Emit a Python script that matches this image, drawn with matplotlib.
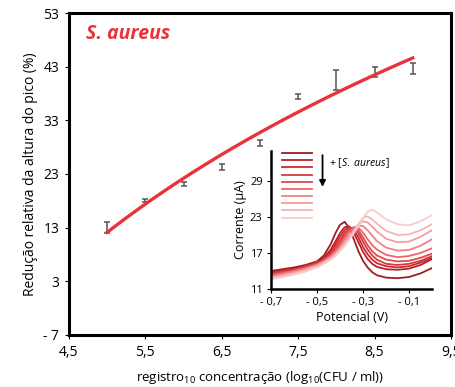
import numpy as np
import matplotlib.pyplot as plt
from matplotlib.lines import Line2D

plt.rcParams['font.family'] = ['Open Sans', 'DejaVu Sans']
plt.rcParams['mathtext.fontset'] = 'custom'
plt.rcParams['mathtext.rm'] = 'Open Sans'
plt.rcParams['mathtext.it'] = 'Open Sans:italic'

# main calibration data
conc = [5.0, 5.5, 6.0, 6.5, 7.0, 7.5, 8.0, 8.5, 9.0]
reduction = [13.0, 18.0, 21.2, 24.3, 28.8, 37.4, 40.5, 42.0, 42.6]
reduction_err = [1.0, 0.3, 0.4, 0.6, 0.5, 0.5, 1.9, 1.0, 1.0]

x_ticks = [4.5, 5.5, 6.5, 7.5, 8.5, 9.5]
x_ticklabels = ['4,5', '5,5', '6,5', '7,5', '8,5', '9,5']
y_ticks = [-7, 3, 13, 23, 33, 43, 53]
y_ticklabels = ['- 7', '3', '13', '23', '33', '43', '53']

# inset voltammograms (dark -> light = increasing concentration)
potential = [-0.70, -0.65, -0.60, -0.55, -0.50, -0.47, -0.44, -0.42, -0.40, -0.38, -0.36,
             -0.34, -0.32, -0.30, -0.28, -0.26, -0.24, -0.20, -0.15, -0.10, -0.05, 0.00]
curve0 = [14.0, 14.3, 14.6, 15.0, 15.6, 16.6, 18.5, 20.3, 21.7, 22.2, 21.2,
          19.3, 17.3, 15.7, 14.6, 13.8, 13.3, 12.9, 12.8, 13.0, 13.6, 14.5]
curve1 = [13.85, 14.1, 14.4, 14.9, 15.5, 16.2, 17.6, 18.9, 20.3, 21.3, 21.4,
          20.4, 18.8, 17.2, 16.0, 15.2, 14.7, 14.3, 14.2, 14.4, 15.0, 16.0]
curve2 = [13.7, 14.0, 14.3, 14.8, 15.4, 16.0, 17.2, 18.4, 19.7, 20.8, 21.4,
          20.9, 19.6, 18.0, 16.8, 15.9, 15.3, 14.8, 14.6, 14.8, 15.4, 16.2]
curve3 = [13.55, 13.9, 14.2, 14.7, 15.3, 15.9, 16.9, 17.9, 19.1, 20.3, 21.1,
          21.2, 20.3, 18.9, 17.6, 16.6, 15.9, 15.2, 15.0, 15.2, 15.7, 16.5]
curve4 = [13.4, 13.8, 14.1, 14.6, 15.2, 15.8, 16.7, 17.6, 18.7, 19.9, 20.9,
          21.3, 20.8, 19.6, 18.3, 17.3, 16.6, 15.9, 15.6, 15.7, 16.2, 16.9]
curve5 = [13.25, 13.6, 14.0, 14.5, 15.1, 15.7, 16.5, 17.3, 18.3, 19.4, 20.5,
          21.3, 21.2, 20.4, 19.3, 18.3, 17.6, 16.7, 16.3, 16.5, 17.0, 17.8]
curve6 = [13.1, 13.5, 13.9, 14.4, 15.0, 15.6, 16.3, 17.0, 17.9, 18.9, 19.9,
          20.9, 21.6, 21.5, 20.8, 19.9, 19.0, 17.9, 17.4, 17.5, 18.2, 19.3]
curve7 = [12.95, 13.3, 13.7, 14.2, 14.9, 15.5, 16.2, 16.9, 17.7, 18.7, 19.7,
          20.8, 21.8, 22.3, 22.1, 21.4, 20.6, 19.4, 18.8, 18.9, 19.7, 20.8]
curve8 = [12.8, 13.2, 13.6, 14.1, 14.8, 15.4, 16.1, 16.7, 17.5, 18.5, 19.5,
          20.6, 21.8, 22.9, 23.1, 22.6, 21.9, 20.7, 20.0, 20.1, 20.8, 21.8]
curve9 = [12.6, 13.0, 13.4, 13.9, 14.6, 15.2, 15.9, 16.5, 17.3, 18.2, 19.2,
          20.3, 21.5, 22.8, 23.9, 24.2, 23.8, 22.6, 21.8, 21.6, 22.3, 23.3]
curves = [curve0, curve1, curve2, curve3, curve4, curve5, curve6, curve7, curve8, curve9]
curve_colors = ['#a01c22', '#b81f27', '#cc2a30', '#d6393e', '#e04a4f',
                '#e8686b', '#ee8385', '#f29d9e', '#f5b5b6', '#f8cccd']

fig = plt.figure(figsize=(4.55, 3.87), dpi=100)
ax = fig.add_axes([0.1516, 0.1344, 0.8394, 0.832])

# logarithmic trend line through the calibration points
coef = np.polyfit(np.log(conc), reduction, 1)
xfit = np.linspace(conc[0], conc[-1], 100)
ax.plot(xfit, coef[0] * np.log(xfit) + coef[1], color='#e8333a', lw=2.4, zorder=3)

ax.errorbar(conc, reduction, yerr=reduction_err, fmt='none', ecolor='#555555',
            elinewidth=1.1, capsize=2.5, capthick=1.1, zorder=2)

ax.set_xlim(4.5, 9.5)
ax.set_ylim(-7, 53)
ax.set_xticks(x_ticks)
ax.set_xticklabels(x_ticklabels)
ax.set_yticks(y_ticks)
ax.set_yticklabels(y_ticklabels)
ax.tick_params(labelsize=10, length=3, width=0.8, direction='out', pad=4)
for s in ax.spines.values():
    s.set_linewidth(2.2)
ax.set_ylabel('Redução relativa da altura do pico (%)', fontsize=10, labelpad=4)
ax.set_xlabel(r'registro$_{10}$ concentração (log$_{10}$(CFU / ml))', fontsize=9.5, labelpad=7)
ax.text(0.045, 0.935, 'S. aureus', transform=ax.transAxes, color='#e8333a',
        fontsize=14, fontweight='bold', fontstyle='italic', va='center')

# inset
ins = fig.add_axes([0.5956, 0.2532, 0.3539, 0.3566])
for c, col in zip(curves, curve_colors):
    ins.plot(potential, c, color=col, lw=1.3)
ins.set_xlim(-0.7, 0.0)
ins.set_ylim(11, 34)
ins.set_xticks([-0.7, -0.5, -0.3, -0.1])
ins.set_xticklabels(['- 0,7', '- 0,5', '- 0,3', '- 0,1'])
ins.set_yticks([11, 17, 23, 29])
ins.tick_params(labelsize=8, length=3, width=0.8, pad=3)
ins.spines['top'].set_visible(False)
ins.spines['right'].set_visible(False)
ins.spines['left'].set_linewidth(1.8)
ins.spines['bottom'].set_linewidth(1.8)
ins.set_facecolor('none')
ins.set_xlabel('Potencial (V)', fontsize=9, labelpad=2)
ins.set_ylabel('Corrente (µA)', fontsize=9, labelpad=2)

# legend swatches with arrow
lx0, lx1 = 0.07, 0.255
for i, col in enumerate(curve_colors):
    yy = 0.985 - i * 0.052
    ins.add_line(Line2D([lx0, lx1], [yy, yy], transform=ins.transAxes, color=col, lw=1.3))
ins.annotate('', xy=(0.32, 0.72), xytext=(0.32, 0.99), xycoords='axes fraction',
             arrowprops=dict(arrowstyle='-|>', color='black', lw=1.3, mutation_scale=9))
ins.text(0.36, 0.91, r'+ [$\mathit{S.\ aureus}$]', transform=ins.transAxes,
         fontsize=7.5, va='center')

fig.savefig('out.png', dpi=100)
